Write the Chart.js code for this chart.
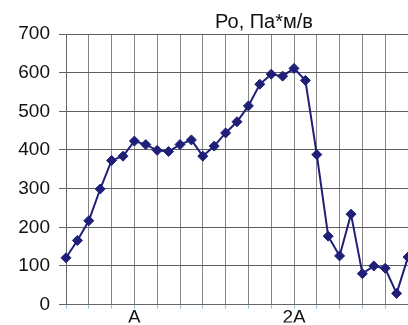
<!DOCTYPE html>
<html>
<head>
<meta charset="utf-8">
<script src="https://cdn.jsdelivr.net/npm/chart.js@4/dist/chart.umd.min.js"></script>
<style>
  html, body { margin: 0; padding: 0; background: #fff; overflow: hidden; }
  #wrap { position: relative; width: 408px; height: 325px; }
</style>
</head>
<body>
<div id="wrap"><canvas id="c" width="408" height="325"></canvas></div>
<script>
// Measurement positions along the x axis (axis units; "A" = 14, "2A" = 28)
const positions = [8, 9, 10, 11, 12, 13, 14, 15, 16, 17, 18, 19, 20, 21, 22, 23, 24, 25, 26, 27, 28, 29, 30, 31, 32, 33, 34, 35, 36, 37, 38];
// Ро, Па*м/в values
const values = [121, 166, 217, 299, 373, 384, 423, 414, 399, 396, 414, 426, 384, 410, 444, 473, 514, 570, 596, 591, 611, 580, 388, 177, 126, 234, 80, 100, 94, 29, 123];
// X tick labels
const xTickLabels = { 14: 'A', 28: '2A' };
const yTicks = [0, 100, 200, 300, 400, 500, 600, 700];
const titleText = 'Ро, Па*м/в';

const navy = '#1f1f78';
const gridCol = '#858585';
const font = 'Liberation Sans, Arial, sans-serif';

const titlePlugin = {
  id: 'customTitle',
  afterDraw(chart) {
    const ctx = chart.ctx;
    ctx.save();
    ctx.font = '20px ' + font;
    ctx.fillStyle = '#111';
    ctx.textAlign = 'center';
    ctx.textBaseline = 'alphabetic';
    ctx.fillText(titleText, 264, 28);
    ctx.restore();
  }
};

new Chart(document.getElementById('c'), {
  type: 'line',
  data: {
    datasets: [{
      data: positions.map((x, i) => ({ x: x, y: values[i] })),
      borderColor: navy,
      backgroundColor: navy,
      borderWidth: 2,
      pointStyle: 'rectRot',
      pointRadius: 5,
      pointBorderWidth: 1,
      pointBorderColor: navy,
      pointBackgroundColor: navy,
      tension: 0,
      clip: false
    }]
  },
  options: {
    responsive: false,
    animation: false,
    devicePixelRatio: 1,
    layout: { autoPadding: false, padding: { top: 34, right: 0, bottom: 0, left: 0 } },
    plugins: { legend: { display: false }, title: { display: false }, tooltip: { enabled: false } },
    scales: {
      x: {
        type: 'linear',
        min: 8,
        max: 38,
        afterFit(scale) { scale.height = 18; },
        border: { display: true, color: '#666', width: 1 },
        grid: { color: gridCol, lineWidth: 1, drawTicks: true, tickLength: 4, tickColor: '#9cc0d8' },
        ticks: {
          stepSize: 2,
          autoSkip: false,
          maxRotation: 0,
          padding: -2,
          color: '#111',
          font: { family: font, size: 19 },
          callback: (v) => xTickLabels[v] || ''
        }
      },
      y: {
        min: 0,
        max: 700,
        afterFit(scale) { scale.width = 66; },
        afterBuildTicks(scale) { scale.ticks = yTicks.map(v => ({ value: v })); },
        border: { display: true, color: '#666', width: 1 },
        grid: { color: '#5e5e5e', lineWidth: 1, drawTicks: true, tickLength: 7, tickColor: '#666' },
        ticks: {
          padding: 9,
          color: '#111',
          font: { family: font, size: 19 }
        }
      }
    }
  },
  plugins: [titlePlugin]
});
</script>
</body>
</html>
